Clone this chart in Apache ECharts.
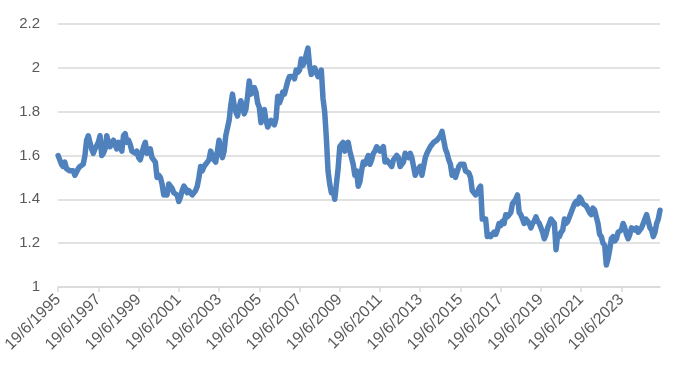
<!DOCTYPE html>
<html>
<head>
<meta charset="utf-8">
<script src="https://cdn.jsdelivr.net/npm/echarts@6/dist/echarts.min.js"></script>
<style>html,body{margin:0;padding:0;background:#fff}#c{width:676px;height:370px}</style>
</head>
<body>
<div id="c"></div>
<script>
// Monthly values, Jun 1995 .. May 2025
const startYear = 1995, startMonth = 6;
const values = [
  // 1995 Jun-Dec
  1.60,1.58,1.56,1.55,1.57,1.54,1.54,
  // 1996
  1.53,1.53,1.53,1.51,1.51,1.54,1.55,1.55,1.56,1.60,1.67,1.69,
  // 1997
  1.66,1.63,1.61,1.63,1.63,1.66,1.69,1.60,1.61,1.63,1.69,1.66,
  // 1998
  1.64,1.64,1.67,1.67,1.63,1.66,1.65,1.62,1.69,1.70,1.66,1.67,
  // 1999
  1.65,1.62,1.62,1.61,1.62,1.59,1.58,1.61,1.64,1.66,1.61,1.61,
  // 2000
  1.63,1.59,1.58,1.57,1.50,1.51,1.50,1.47,1.42,1.44,1.42,1.47,
  // 2001
  1.47,1.45,1.43,1.43,1.42,1.39,1.41,1.44,1.46,1.45,1.43,1.44,
  // 2002
  1.43,1.42,1.42,1.44,1.46,1.50,1.55,1.53,1.55,1.56,1.57,1.58,
  // 2003
  1.62,1.60,1.58,1.57,1.62,1.67,1.62,1.59,1.62,1.69,1.69,1.76,
  // 2004
  1.83,1.88,1.83,1.80,1.78,1.82,1.85,1.82,1.79,1.81,1.87,1.94,
  // 2005
  1.88,1.89,1.91,1.89,1.84,1.82,1.75,1.79,1.81,1.76,1.73,1.73,
  // 2006
  1.76,1.75,1.74,1.77,1.87,1.84,1.86,1.89,1.88,1.88,1.94,1.96,
  // 2007
  1.96,1.96,1.95,1.99,1.98,1.99,2.04,2.01,2.03,2.06,2.09,2.01,
  // 2008
  1.97,1.97,2.00,1.98,1.96,1.97,1.99,1.86,1.80,1.68,1.53,1.47,
  // 2009
  1.43,1.44,1.40,1.47,1.54,1.64,1.65,1.66,1.62,1.62,1.66,1.62,
  // 2010
  1.62,1.56,1.51,1.53,1.46,1.48,1.53,1.57,1.56,1.58,1.60,1.56,
  // 2011
  1.58,1.61,1.62,1.64,1.63,1.62,1.62,1.64,1.57,1.58,1.58,1.56,
  // 2012
  1.55,1.58,1.58,1.60,1.59,1.55,1.56,1.57,1.61,1.61,1.59,1.61,
  // 2013
  1.59,1.55,1.51,1.53,1.53,1.55,1.51,1.55,1.59,1.61,1.61,1.64,
  // 2014
  1.65,1.66,1.66,1.67,1.68,1.69,1.71,1.67,1.63,1.61,1.58,1.56,
  // 2015
  1.51,1.53,1.50,1.50,1.55,1.56,1.56,1.56,1.53,1.53,1.52,1.50,
  // 2016
  1.44,1.43,1.42,1.43,1.45,1.46,1.31,1.31,1.31,1.23,1.24,1.23,
  // 2017
  1.23,1.25,1.24,1.26,1.29,1.28,1.30,1.29,1.33,1.32,1.32,1.34,
  // 2018
  1.38,1.39,1.40,1.42,1.34,1.33,1.31,1.29,1.31,1.30,1.29,1.27,
  // 2019
  1.29,1.30,1.32,1.30,1.29,1.27,1.25,1.22,1.24,1.27,1.29,1.31,
  // 2020
  1.31,1.29,1.17,1.24,1.23,1.25,1.26,1.31,1.29,1.30,1.32,1.34,
  // 2021
  1.36,1.38,1.39,1.38,1.41,1.40,1.38,1.38,1.37,1.37,1.34,1.33,
  // 2022
  1.36,1.35,1.32,1.29,1.24,1.23,1.20,1.19,1.10,1.13,1.17,1.22,
  // 2023
  1.23,1.21,1.22,1.25,1.25,1.26,1.29,1.27,1.24,1.22,1.24,1.27,
  // 2024
  1.27,1.26,1.27,1.25,1.26,1.27,1.29,1.29,1.33,1.30,1.27,1.26,
  // 2025 Jan-May
  1.23,1.25,1.29,1.31,1.35
];
const yTicks = { min: 1, max: 2.2, interval: 0.2 };
const labelEvery = 24; // one label every two years

const categories = [];
for (let i = 0; i < values.length; i++) {
  const m = (startMonth - 1 + i) % 12 + 1;
  const y = startYear + Math.floor((startMonth - 1 + i) / 12);
  categories.push('19/' + m + '/' + y);
}

const chart = echarts.init(document.getElementById('c'), null, { renderer: 'canvas' });
chart.setOption({
  animation: false,
  backgroundColor: '#ffffff',
  grid: { left: 55, right: 16, top: 24, bottom: 83, containLabel: false },
  xAxis: {
    type: 'category',
    data: categories,
    boundaryGap: false,
    axisLine: { lineStyle: { color: '#d9d9d9', width: 1.5 } },
    axisTick: { show: true, length: 5, interval: labelEvery - 1, lineStyle: { color: '#d9d9d9', width: 1.5 } },
    axisLabel: {
      interval: labelEvery - 1,
      rotate: 45,
      margin: 10,
      color: '#595959',
      fontSize: 16,
      fontFamily: 'Liberation Sans'
    },
    splitLine: { show: false }
  },
  yAxis: {
    type: 'value',
    min: yTicks.min,
    max: yTicks.max,
    interval: yTicks.interval,
    axisLine: { show: false },
    axisTick: { show: false },
    axisLabel: {
      margin: 18,
      color: '#595959',
      fontSize: 15,
      fontFamily: 'Liberation Sans',
      formatter: v => String(Math.round(v * 10) / 10)
    },
    splitLine: { lineStyle: { color: '#d9d9d9', width: 1.5 } }
  },
  series: [{
    type: 'line',
    data: values,
    showSymbol: false,
    symbol: 'none',
    lineStyle: { color: '#4f81bd', width: 5.5, join: 'round', cap: 'round' },
    z: 3
  }]
});
</script>
</body>
</html>
